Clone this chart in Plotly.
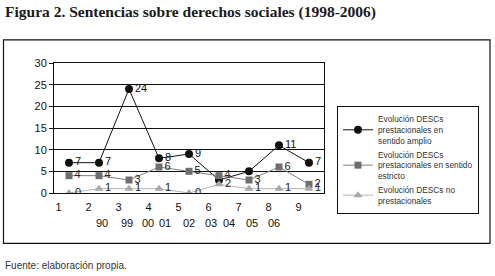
import plotly.graph_objects as go

# ---- data ----
periods = [1, 2, 3, 4, 5, 6, 7, 8, 9]
period_labels = ["1", "2", "3", "4", "5", "6", "7", "8", "9"]
year_labels = ["90", "99", "00", "01", "02", "03", "04", "05", "06"]

amplio = [7, 7, 24, 8, 9, 3, 5, 11, 7]
estricto = [4, 4, 3, 6, 5, 4, 3, 6, 2]
no_prest = [0, 1, 1, 1, 0, 2, 1, 1, 1]

# which data labels are visible in the source (hidden ones are overlapped)
amplio_label_shown = [True, True, True, True, True, False, False, True, True]

series_names = [
    "Evolución DESCs<br>prestacionales en<br>sentido amplio",
    "Evolución DESCs<br>prestacionales en sentido<br>estricto",
    "Evolución DESCs no<br>prestacionales",
]

# ---- layout helpers (positions, not data) ----
period_label_shift = -0.35
year_label_x = [2.1, 2.93, 3.63, 4.2, 5.0, 5.73, 6.33, 7.1, 7.83]

FONT = "Liberation Sans, Arial, sans-serif"

fig = go.Figure()

fig.add_trace(go.Scatter(
    x=periods, y=amplio, name=series_names[0],
    mode="lines+markers+text",
    text=[str(v) if s else "" for v, s in zip(amplio, amplio_label_shown)],
    textposition="middle right",
    textfont=dict(family=FONT, size=11, color="#111"),
    line=dict(color="#111", width=1),
    marker=dict(symbol="circle", size=8, color="#111"),
))
fig.add_trace(go.Scatter(
    x=periods, y=estricto, name=series_names[1],
    mode="lines+markers+text",
    text=[str(v) for v in estricto],
    textposition="middle right",
    textfont=dict(family=FONT, size=11, color="#222"),
    line=dict(color="#808080", width=1),
    marker=dict(symbol="square", size=7, color="#6e6e6e"),
))
fig.add_trace(go.Scatter(
    x=periods, y=no_prest, name=series_names[2],
    mode="lines+markers+text",
    text=[str(v) for v in no_prest],
    textposition="middle right",
    textfont=dict(family=FONT, size=11, color="#222"),
    line=dict(color="#b4b4b4", width=1),
    marker=dict(symbol="triangle-up", size=8, color="#a8a8a8"),
))

W, H = 495, 276
L, R, T, B = 54, 324, 62.7, 193.3

def px(xp):
    return (xp - L) / (R - L)

def py(yp):
    return (B - yp) / (B - T)

annotations = [
    dict(text="<b>Figura 2. Sentencias sobre derechos sociales (1998-2006)</b>",
         xref="paper", yref="paper", x=px(3), y=py(11), xanchor="left", yanchor="middle",
         showarrow=False, font=dict(family="Liberation Serif, serif", size=15.5, color="#1a1a1a")),
    dict(text="Fuente: elaboración propia.",
         xref="paper", yref="paper", x=px(3), y=py(266), xanchor="left", yanchor="middle",
         showarrow=False, font=dict(family=FONT, size=10, color="#333")),
]
for xv, lab in zip(year_label_x, year_labels):
    annotations.append(dict(text=lab, xref="x", yref="paper", x=xv, y=py(223),
                            xanchor="center", yanchor="middle", showarrow=False,
                            font=dict(family=FONT, size=11, color="#111")))

shapes = [
    dict(type="rect", xref="paper", yref="paper",
         x0=px(3.5), x1=px(490), y0=py(244), y1=py(39.5),
         line=dict(color="#111", width=1.2), fillcolor="rgba(0,0,0,0)", layer="below"),
]

fig.update_layout(
    width=W, height=H,
    margin=dict(l=L, r=W - R, t=T, b=H - B, pad=0),
    paper_bgcolor="white", plot_bgcolor="white",
    font=dict(family=FONT, size=11, color="#111"),
    showlegend=True,
    legend=dict(
        x=px(337), y=py(106), xanchor="left", yanchor="top",
        bordercolor="#111", borderwidth=1, bgcolor="white",
        font=dict(family=FONT, size=8.3, color="#333"),
        tracegroupgap=0, itemwidth=30,
    ),
    annotations=annotations,
    shapes=shapes,
)
fig.update_xaxes(
    range=[0.5, 9.5], tickmode="array",
    tickvals=[p + period_label_shift for p in periods], ticktext=period_labels,
    ticks="", showgrid=False, zeroline=False, ticklabelstandoff=4,
    showline=True, linecolor="#111", linewidth=1, mirror=True,
    tickfont=dict(family=FONT, size=11, color="#111"),
)
fig.update_yaxes(
    range=[0, 30], tickmode="linear", tick0=0, dtick=5,
    ticks="outside", ticklen=4, tickcolor="#111",
    showgrid=True, gridcolor="#111", gridwidth=1, zeroline=False,
    showline=True, linecolor="#111", linewidth=1, mirror=True,
    tickfont=dict(family=FONT, size=11, color="#111"),
)

fig.write_html("out.html", config={"displayModeBar": False},
               post_script="document.body.style.margin='0';")
